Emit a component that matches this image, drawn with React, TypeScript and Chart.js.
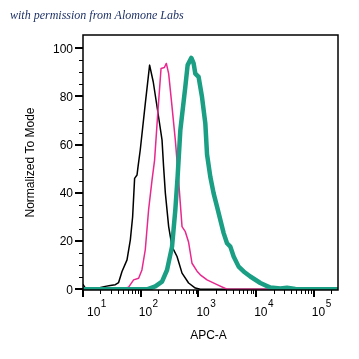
import React, { useEffect, useRef } from 'react';
import { Chart, registerables } from 'chart.js';
Chart.register(...registerables);

// ---- data (x in APC-A channel values, y in % of mode) ----
const tealX = [10, 128.5, 179, 234, 286, 349, 398, 436, 486, 593, 650, 754, 826, 883, 1007, 1153, 1317, 1410, 1607, 1834, 2100, 2397, 2737, 3130, 3574, 4078, 4977, 6073, 7925, 11830, 17620, 26240, 34280, 47800, 97800, 262144];
const tealY = [0, 0, 1.2, 3.2, 8, 17.7, 33, 46.7, 66, 84, 93, 96, 93.7, 89.5, 88.1, 79.8, 68.8, 56, 46.7, 39.8, 34.3, 28.8, 23.3, 19.1, 17.7, 13.6, 9.4, 7.4, 5.3, 2.6, 0.7, 0.3, 0.6, 0.1, 0, 0];

const pinkX = [10, 44.3, 61.7, 75.3, 92, 105, 120, 137, 157, 174, 198, 225, 257, 278, 305, 349, 398, 454, 520, 593, 676, 774, 946, 1078, 1410, 2100, 3130, 262144];
const pinkY = [0, 0, 0.9, 3.9, 4.6, 8, 16.4, 33, 45.3, 53.6, 73.4, 91.6, 92, 93.7, 89.5, 75.7, 61.9, 45, 26, 23.9, 19.5, 10.8, 7.5, 6, 3.9, 1.9, 0, 0];

const blackX = [10, 11, 16.3, 18.6, 24.3, 29.7, 36.3, 41.4, 47.4, 57.9, 66.1, 72.4, 78.4, 86.3, 89.8, 98.4, 120, 142.6, 165, 194, 234, 249, 267, 305, 349, 426, 520, 676, 883, 1078, 262144];
const blackY = [2, 0.5, 0, 0.5, 1.2, 1.6, 1.9, 2.8, 7.4, 12.2, 20.5, 30, 46, 47.4, 50.8, 58, 77, 93, 86, 75, 62, 51, 40, 26, 17.7, 13.6, 6.7, 2.6, 0.5, 0, 0];

// ---- axes ----
const xMin = 10;
const xMax = 262144;
const xMajorTicks = [10, 100, 1000, 10000, 100000];
const xTickExponents = ['1', '2', '3', '4', '5'];
const xMinorMultipliers = [2, 3, 4, 5, 6, 7, 8, 9];
const yMin = -0.3;
const yMax = 105.5;
const yMajorTicks = [0, 20, 40, 60, 80, 100];
const yMinorTicks = [5, 10, 15, 25, 30, 35, 45, 50, 55, 65, 70, 75, 85, 90, 95];

const titleText = 'with permission from Alomone Labs';
const xTitle = 'APC-A';
const yTitle = 'Normalized To Mode';

const FONT = '"Liberation Sans", Arial, sans-serif';

const zip = (xs: number[], ys: number[]) => xs.map((x, i) => ({ x, y: ys[i] }));

const decorPlugin = {
  id: 'decor',
  afterDraw(chart: any) {
    const { ctx, chartArea: a, scales } = chart;
    const xs = scales.x;
    const ys = scales.y;
    ctx.save();
    // title
    ctx.fillStyle = '#1f3266';
    ctx.font = 'italic 12px "Liberation Serif", "DejaVu Serif", serif';
    ctx.textAlign = 'left';
    ctx.textBaseline = 'alphabetic';
    ctx.fillText(titleText, 10, 19);

    // frame
    ctx.strokeStyle = '#000';
    ctx.lineWidth = 1.5;
    ctx.strokeRect(a.left, a.top, a.right - a.left, a.bottom - a.top);

    // y ticks
    ctx.lineWidth = 2;
    ctx.beginPath();
    yMajorTicks.forEach((v) => {
      const y = Math.round(ys.getPixelForValue(v));
      ctx.moveTo(a.left - 8, y);
      ctx.lineTo(a.left, y);
    });
    ctx.stroke();
    ctx.lineWidth = 1;
    ctx.beginPath();
    yMinorTicks.forEach((v) => {
      const y = Math.round(ys.getPixelForValue(v)) + 0.5;
      ctx.moveTo(a.left - 4, y);
      ctx.lineTo(a.left, y);
    });
    ctx.stroke();

    // y labels
    ctx.fillStyle = '#000';
    ctx.font = '12px ' + FONT;
    ctx.textAlign = 'right';
    ctx.textBaseline = 'middle';
    yMajorTicks.forEach((v) => {
      ctx.fillText(String(v), a.left - 10, ys.getPixelForValue(v) + 1);
    });

    // x ticks
    ctx.lineWidth = 2;
    ctx.beginPath();
    xMajorTicks.forEach((v) => {
      const x = Math.round(xs.getPixelForValue(v));
      ctx.moveTo(x, a.bottom);
      ctx.lineTo(x, a.bottom + 7);
    });
    ctx.stroke();
    ctx.lineWidth = 1;
    ctx.beginPath();
    xMajorTicks.forEach((v) => {
      xMinorMultipliers.forEach((m) => {
        const val = v * m;
        if (val > xMax) return;
        const x = Math.round(xs.getPixelForValue(val)) + 0.5;
        ctx.moveTo(x, a.bottom);
        ctx.lineTo(x, a.bottom + 4);
      });
    });
    ctx.stroke();

    // x labels
    ctx.textAlign = 'left';
    ctx.textBaseline = 'alphabetic';
    xMajorTicks.forEach((v, i) => {
      const px = xs.getPixelForValue(v);
      const left = Math.max(px - 2, a.left + 4);
      ctx.font = '12px ' + FONT;
      ctx.fillText('10', left, a.bottom + 26);
      const w = ctx.measureText('10').width;
      ctx.font = '10px ' + FONT;
      ctx.fillText(xTickExponents[i], left + w + 0.5, a.bottom + 17);
    });

    // axis titles
    ctx.font = '12px ' + FONT;
    ctx.textAlign = 'center';
    ctx.fillText(xTitle, (a.left + a.right) / 2 - 2, a.bottom + 49);
    ctx.translate(31, (a.top + a.bottom) / 2);
    ctx.rotate(-Math.PI / 2);
    ctx.textBaseline = 'middle';
    ctx.fillText(yTitle, 0, 0);
    ctx.restore();
  },
};

export default function App() {
  const ref = useRef<HTMLCanvasElement>(null);
  useEffect(() => {
    const canvas = ref.current!;
    const chart = new Chart(canvas, {
      type: 'line',
      data: {
        datasets: [
          { data: zip(tealX, tealY), borderColor: '#1a9e84', borderWidth: 4.5 },
          { data: zip(pinkX, pinkY), borderColor: '#e8288f', borderWidth: 1.5 },
          { data: zip(blackX, blackY), borderColor: '#000000', borderWidth: 1.5 },
        ],
      },
      options: {
        responsive: false,
        animation: false,
        devicePixelRatio: 1,
        layout: { padding: { top: 35, right: 21, left: 0, bottom: 0 } },
        plugins: { legend: { display: false }, tooltip: { enabled: false }, title: { display: false } },
        elements: { point: { radius: 0 }, line: { tension: 0, borderJoinStyle: 'round', borderCapStyle: 'round' } },
        scales: {
          x: {
            type: 'logarithmic', min: xMin, max: xMax,
            grid: { display: false }, border: { display: false }, ticks: { display: false },
            afterFit: (s: any) => { s.height = 69; },
          },
          y: {
            type: 'linear', min: yMin, max: yMax,
            grid: { display: false }, border: { display: false }, ticks: { display: false },
            afterFit: (s: any) => { s.width = 83; },
          },
        },
      } as any,
      plugins: [decorPlugin],
    });
    return () => chart.destroy();
  }, []);
  return (
    <div style={{ position: 'absolute', left: 0, top: 0, width: 359, height: 359, background: '#fff' }}>
      <canvas ref={ref} width={359} height={359} style={{ display: 'block' }} />
    </div>
  );
}
